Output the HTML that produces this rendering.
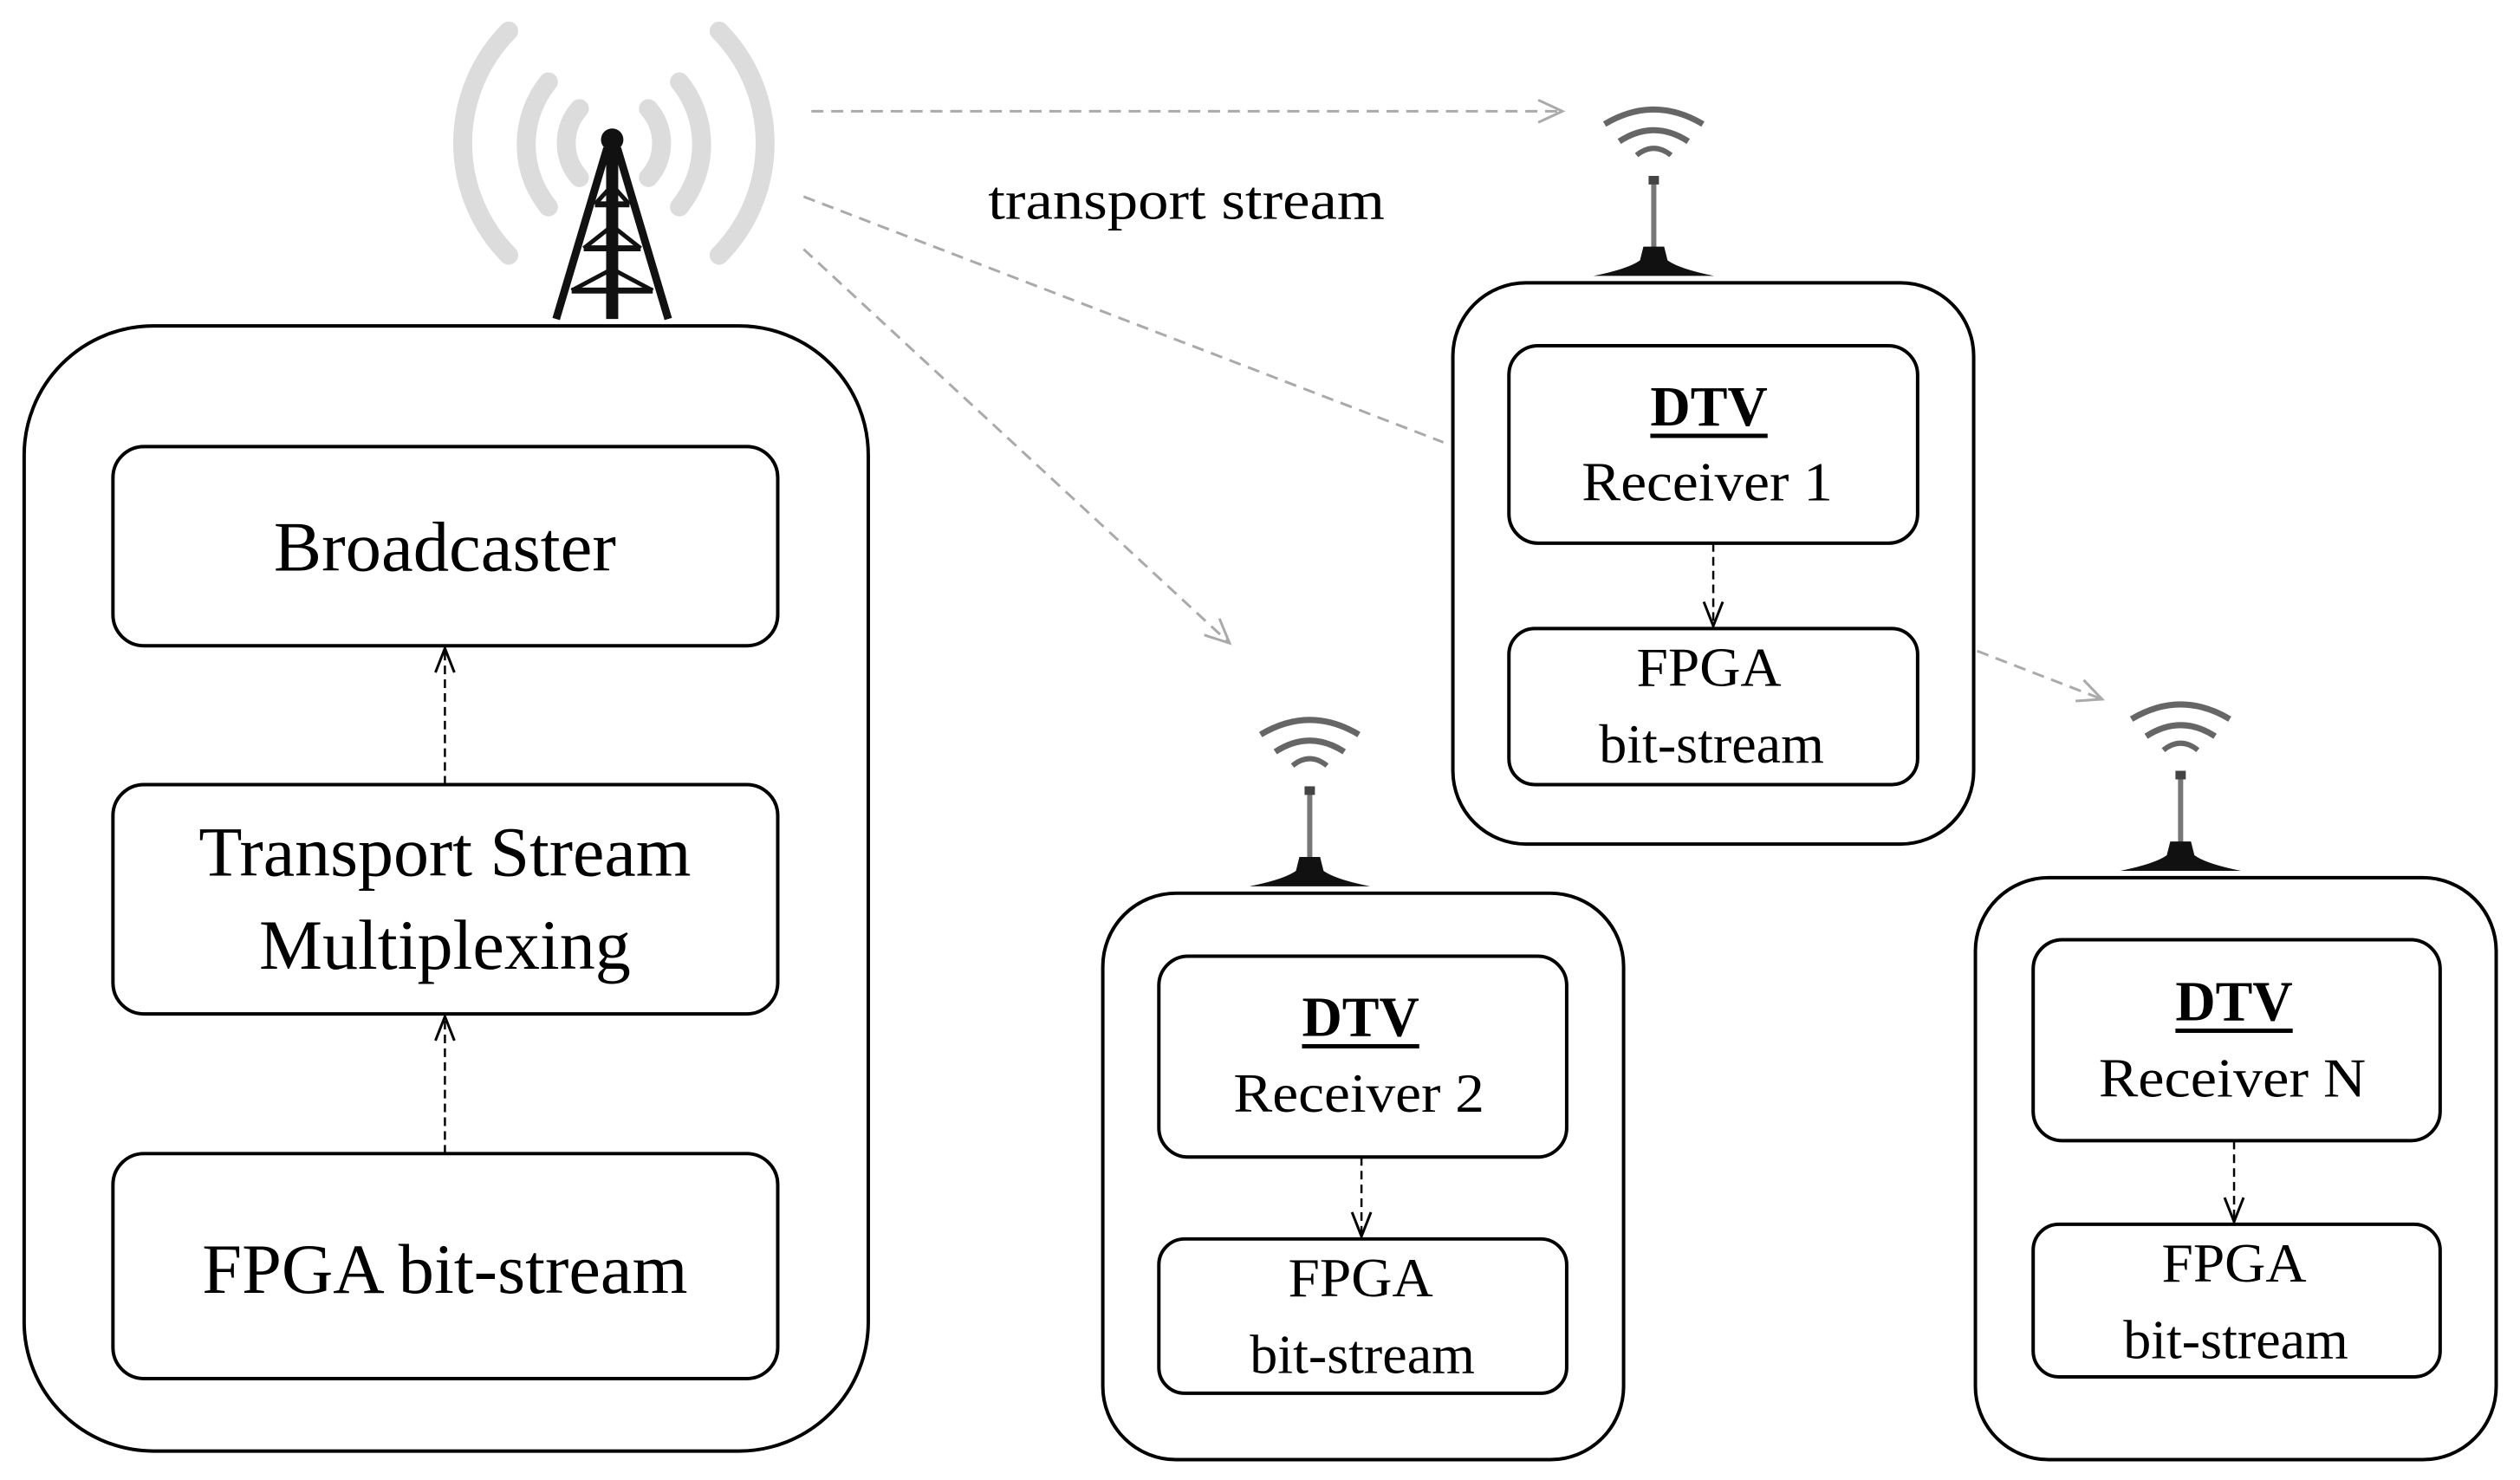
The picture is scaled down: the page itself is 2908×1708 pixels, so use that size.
<!DOCTYPE html>
<html><head><meta charset="utf-8"><style>
html,body{margin:0;padding:0;background:#fff;}
svg{display:block;}
text{font-family:"Liberation Serif",serif;fill:#000;}
</style></head><body>
<svg width="2908" height="1708" viewBox="0 0 2908 1708" xmlns="http://www.w3.org/2000/svg">
<defs>
<marker id="ag" markerWidth="40" markerHeight="40" refX="30" refY="15" orient="auto" markerUnits="userSpaceOnUse">
<path d="M2,2 L30,15 L2,28" fill="none" stroke="#aaa" stroke-width="3"/>
</marker>
<marker id="ab" markerWidth="40" markerHeight="40" refX="30" refY="13" orient="auto" markerUnits="userSpaceOnUse">
<path d="M2,2 L30,13 L2,24" fill="none" stroke="#000" stroke-width="3"/>
</marker>
<g id="ant">
<path d="M-57,-178 Q0,-212 57,-178" fill="none" stroke="#666" stroke-width="7"/>
<path d="M-40,-158 Q0,-184 40,-158" fill="none" stroke="#666" stroke-width="7"/>
<path d="M-20,-142 Q0,-158 20,-142" fill="none" stroke="#666" stroke-width="6"/>
<rect x="-3" y="-112" width="6" height="80" fill="#777"/>
<rect x="-6" y="-118" width="12" height="10" fill="#444"/>
<path d="M-70,-2 Q-30,-10 -16,-20 L-12,-36 L12,-36 L16,-20 Q30,-10 70,-2 Z" fill="#111"/>
</g>
</defs>
<g transform="scale(0.995)">
<!-- tower waves -->
<g fill="none" stroke="#dcdcdc" stroke-width="22" stroke-linecap="round">
<path d="M590,36 A185,185 0 0 0 590,296"/>
<path d="M834,36 A185,185 0 0 1 834,296"/>
<path d="M636,95 A115,115 0 0 0 636,240"/>
<path d="M788,95 A115,115 0 0 1 788,240"/>
<path d="M672,126 A60,60 0 0 0 672,206"/>
<path d="M752,126 A60,60 0 0 1 752,206"/>
</g>
<!-- tower -->
<g stroke="#111" fill="none" stroke-linecap="butt">
<path d="M704,172 L645,370 M716,172 L775,370" stroke-width="9"/>
<path d="M710,170 L710,370" stroke-width="14"/>
<path d="M690,237 L730,237 M677,288 L743,288 M663,337 L757,337" stroke-width="7"/>
<path d="M690,237 L710,215 L730,237 M677,288 L710,262 L743,288 M663,337 L710,312 L757,337" stroke-width="5"/>
</g>
<circle cx="710" cy="162" r="13" fill="#111"/>

<!-- left outer -->
<rect x="28" y="378" width="979" height="1305" rx="150" ry="150" fill="none" stroke="#000" stroke-width="4"/>
<rect x="131" y="518" width="771" height="231" rx="36" fill="none" stroke="#000" stroke-width="4"/>
<rect x="131" y="910" width="771" height="266" rx="36" fill="none" stroke="#000" stroke-width="4"/>
<rect x="131" y="1338" width="771" height="261" rx="36" fill="none" stroke="#000" stroke-width="4"/>
<text x="516" y="634" font-size="82" text-anchor="middle" dominant-baseline="central" textLength="397" lengthAdjust="spacingAndGlyphs">Broadcaster</text>
<text x="516" y="988" font-size="82" text-anchor="middle" dominant-baseline="central" textLength="571" lengthAdjust="spacingAndGlyphs">Transport Stream</text>
<text x="516" y="1096" font-size="82" text-anchor="middle" dominant-baseline="central" textLength="431" lengthAdjust="spacingAndGlyphs">Multiplexing</text>
<text x="516" y="1472" font-size="82" text-anchor="middle" dominant-baseline="central" textLength="563" lengthAdjust="spacingAndGlyphs">FPGA bit-stream</text>
<line x1="516" y1="910" x2="516" y2="752" stroke="#000" stroke-width="2.5" stroke-dasharray="10,6" marker-end="url(#ab)"/>
<line x1="516" y1="1338" x2="516" y2="1179" stroke="#000" stroke-width="2.5" stroke-dasharray="10,6" marker-end="url(#ab)"/>

<!-- transport stream label and gray arrows -->
<text x="1376" y="232" font-size="64" text-anchor="middle" dominant-baseline="central" textLength="460" lengthAdjust="spacingAndGlyphs">transport stream</text>
<g stroke="#aaa" stroke-width="3" stroke-dasharray="14,9" fill="none">
<line x1="941" y1="129" x2="1812" y2="129" marker-end="url(#ag)"/>
<line x1="932" y1="228" x2="1674" y2="513"/>
<line x1="932" y1="289" x2="1426" y2="746" marker-end="url(#ag)"/>
<line x1="2293" y1="755" x2="2438" y2="811" marker-end="url(#ag)"/>
</g>

<!-- receiver 1 -->
<use href="#ant" x="1918" y="322"/>
<rect x="1685" y="328" width="604" height="651" rx="85" fill="none" stroke="#000" stroke-width="4"/>
<rect x="1750" y="401" width="474" height="229" rx="34" fill="none" stroke="#000" stroke-width="4"/>
<rect x="1750" y="729" width="474" height="181" rx="30" fill="none" stroke="#000" stroke-width="4"/>
<text x="1982" y="472" font-size="66" font-weight="bold" text-anchor="middle" dominant-baseline="central" textLength="136" lengthAdjust="spacingAndGlyphs">DTV</text>
<rect x="1914" y="503" width="136" height="5" fill="#000"/>
<text x="1980" y="559" font-size="64" text-anchor="middle" dominant-baseline="central" textLength="291" lengthAdjust="spacingAndGlyphs">Receiver  1</text>
<text x="1982" y="774" font-size="64" text-anchor="middle" dominant-baseline="central" textLength="168" lengthAdjust="spacingAndGlyphs">FPGA</text>
<text x="1985" y="863" font-size="64" text-anchor="middle" dominant-baseline="central" textLength="261" lengthAdjust="spacingAndGlyphs">bit-stream</text>
<line x1="1987" y1="630" x2="1987" y2="726" stroke="#000" stroke-width="2.5" stroke-dasharray="10,6" marker-end="url(#ab)"/>

<!-- receiver 2 -->
<use href="#ant" x="1519" y="1030"/>
<rect x="1279" y="1036" width="604" height="657" rx="85" fill="none" stroke="#000" stroke-width="4"/>
<rect x="1344" y="1109" width="473" height="233" rx="34" fill="none" stroke="#000" stroke-width="4"/>
<rect x="1344" y="1437" width="473" height="179" rx="30" fill="none" stroke="#000" stroke-width="4"/>
<text x="1578" y="1180" font-size="66" font-weight="bold" text-anchor="middle" dominant-baseline="central" textLength="136" lengthAdjust="spacingAndGlyphs">DTV</text>
<rect x="1510" y="1211" width="136" height="5" fill="#000"/>
<text x="1576" y="1268" font-size="64" text-anchor="middle" dominant-baseline="central" textLength="291" lengthAdjust="spacingAndGlyphs">Receiver  2</text>
<text x="1578" y="1482" font-size="64" text-anchor="middle" dominant-baseline="central" textLength="168" lengthAdjust="spacingAndGlyphs">FPGA</text>
<text x="1580" y="1571" font-size="64" text-anchor="middle" dominant-baseline="central" textLength="261" lengthAdjust="spacingAndGlyphs">bit-stream</text>
<line x1="1579" y1="1342" x2="1579" y2="1434" stroke="#000" stroke-width="2.5" stroke-dasharray="10,6" marker-end="url(#ab)"/>

<!-- receiver N -->
<use href="#ant" x="2529" y="1012"/>
<rect x="2291" y="1018" width="604" height="675" rx="85" fill="none" stroke="#000" stroke-width="4"/>
<rect x="2358" y="1090" width="472" height="233" rx="34" fill="none" stroke="#000" stroke-width="4"/>
<rect x="2358" y="1420" width="472" height="177" rx="30" fill="none" stroke="#000" stroke-width="4"/>
<text x="2591" y="1162" font-size="66" font-weight="bold" text-anchor="middle" dominant-baseline="central" textLength="136" lengthAdjust="spacingAndGlyphs">DTV</text>
<rect x="2523" y="1193" width="136" height="5" fill="#000"/>
<text x="2589" y="1250" font-size="64" text-anchor="middle" dominant-baseline="central" textLength="310" lengthAdjust="spacingAndGlyphs">Receiver  N</text>
<text x="2591" y="1465" font-size="64" text-anchor="middle" dominant-baseline="central" textLength="168" lengthAdjust="spacingAndGlyphs">FPGA</text>
<text x="2593" y="1554" font-size="64" text-anchor="middle" dominant-baseline="central" textLength="261" lengthAdjust="spacingAndGlyphs">bit-stream</text>
<line x1="2591" y1="1323" x2="2591" y2="1417" stroke="#000" stroke-width="2.5" stroke-dasharray="10,6" marker-end="url(#ab)"/>
</g>
</svg>
</body></html>
